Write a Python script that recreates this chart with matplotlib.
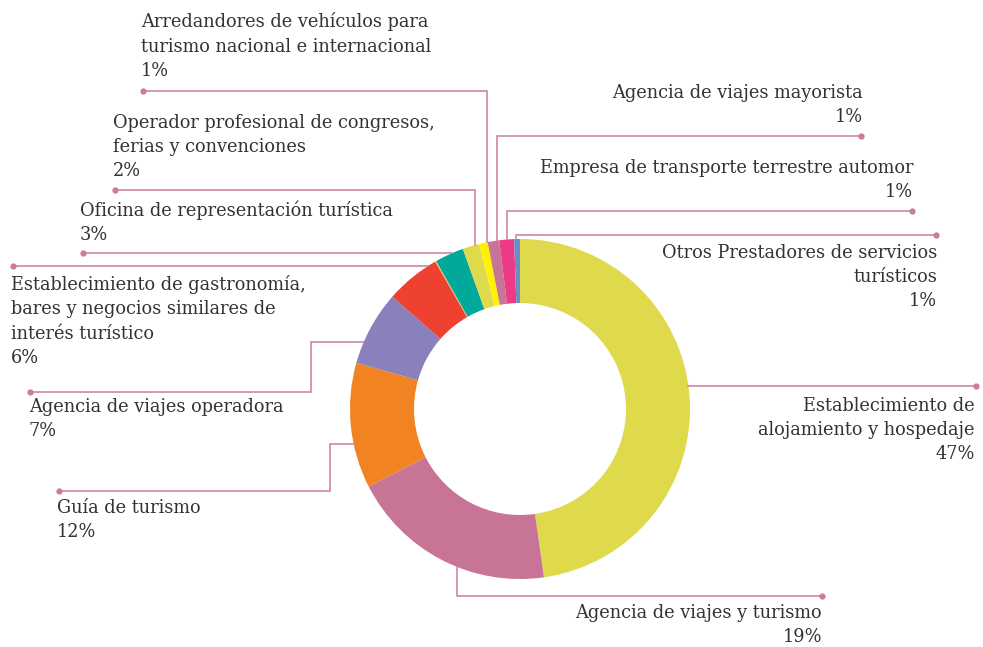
import numpy as np
import matplotlib.pyplot as plt

plt.rcParams['font.family'] = ['DejaVu Serif']

# categorias en el orden del anillo (sentido horario desde las 12)
CATEGORIAS = [
    'Establecimiento de\nalojamiento y hospedaje',
    'Agencia de viajes y turismo',
    'Guía de turismo',
    'Agencia de viajes operadora',
    'Establecimiento de gastronomía,\nbares y negocios similares de\ninterés turístico',
    '',
    'Oficina de representación turística',
    'Operador profesional de congresos,\nferias y convenciones',
    'Arredandores de vehículos para\nturismo nacional e internacional',
    'Agencia de viajes mayorista',
    'Empresa de transporte terrestre automor',
    'Otros Prestadores de servicios\nturísticos',
]
# porcentaje impreso en cada etiqueta
PORCENTAJES = [47, 19, 12, 7, 6, None, 3, 2, 1, 1, 1, 1]
CUOTAS = [47.7, 19.7, 11.9, 7.1, 5.2, 0.1, 2.75, 1.6, 0.8, 1.1, 1.4, 0.55]
COLORES = ['#dfd94c', '#c87496', '#f28322', '#8a80bb', '#ee4130', '#e6c64a',
           '#00a99a', '#dfd94c', '#fff200', '#c87496', '#ed3a85', '#6a8fc8']

W, H = 983, 647
CX, CY = 520, 409      # centro del anillo (px)
R_EXT = 170
ANCHO = 64
COLOR_LINEA = '#cd7aa0'
COLOR_TEXTO = '#333333'

# posicion del texto (x, y centro, alineacion) y trazo de la guia
# el trazo termina con 'h' (horizontal) o 'v' (vertical) hasta el anillo
ETIQUETAS = [
    ((975, 430, 'right'), [(976, 386)], 'h'),
    ((822, 625, 'right'), [(822, 596), (457, 596)], 'v'),
    ((57, 520, 'left'), [(59, 491), (330, 491), (330, 444)], 'h'),
    ((29, 419, 'left'), [(30, 392), (311, 392), (311, 342)], 'h'),
    ((11, 321, 'left'), [(13, 266)], 'h'),
    None,
    ((80, 222, 'left'), [(83, 253)], 'h'),
    ((113, 147, 'left'), [(115, 190), (475, 190)], 'v'),
    ((141, 46, 'left'), [(143, 91), (487, 91)], 'v'),
    ((863, 105, 'right'), [(861, 136), (497, 136)], 'v'),
    ((913, 180, 'right'), [(912, 211), (507, 211)], 'v'),
    ((937, 277, 'right'), [(936, 235), (516, 235)], 'v'),
]


def punto_en_anillo(x, y, modo):
    """extiende la guia hasta el borde exterior del anillo"""
    if modo == 'h':
        d = np.sqrt(R_EXT**2 - (y - CY)**2)
        return (CX + d, y) if x > CX else (CX - d, y)
    d = np.sqrt(R_EXT**2 - (x - CX)**2)
    return (x, CY + d) if y > CY else (x, CY - d)


fig = plt.figure(figsize=(W / 100, H / 100), dpi=100)
ax = fig.add_axes([0, 0, 1, 1])

# eje y invertido: counterclock=True se ve en sentido horario
ax.pie(CUOTAS, colors=COLORES, center=(CX, CY), radius=R_EXT,
       startangle=270, counterclock=True,
       wedgeprops=dict(width=ANCHO, linewidth=0))

ax.set_xlim(0, W)
ax.set_ylim(H, 0)
ax.set_aspect('equal')
ax.axis('off')

for cat, pct, etq in zip(CATEGORIAS, PORCENTAJES, ETIQUETAS):
    if etq is None:
        continue
    (tx, ty, ha), trazo, modo = etq
    fin = punto_en_anillo(trazo[-1][0], trazo[-1][1], modo)
    xs = [p[0] for p in trazo] + [fin[0]]
    ys = [p[1] for p in trazo] + [fin[1]]
    ax.plot(xs, ys, color=COLOR_LINEA, lw=1.1, solid_joinstyle='miter')
    ax.plot(trazo[0][0], trazo[0][1], 'o', color=COLOR_LINEA, ms=3.5)
    ax.text(tx, ty, f'{cat}\n{pct}%', ha=ha, va='center', fontsize=12.8,
            color=COLOR_TEXTO, linespacing=1.45)

fig.savefig('out.png', dpi=100, facecolor='white')
